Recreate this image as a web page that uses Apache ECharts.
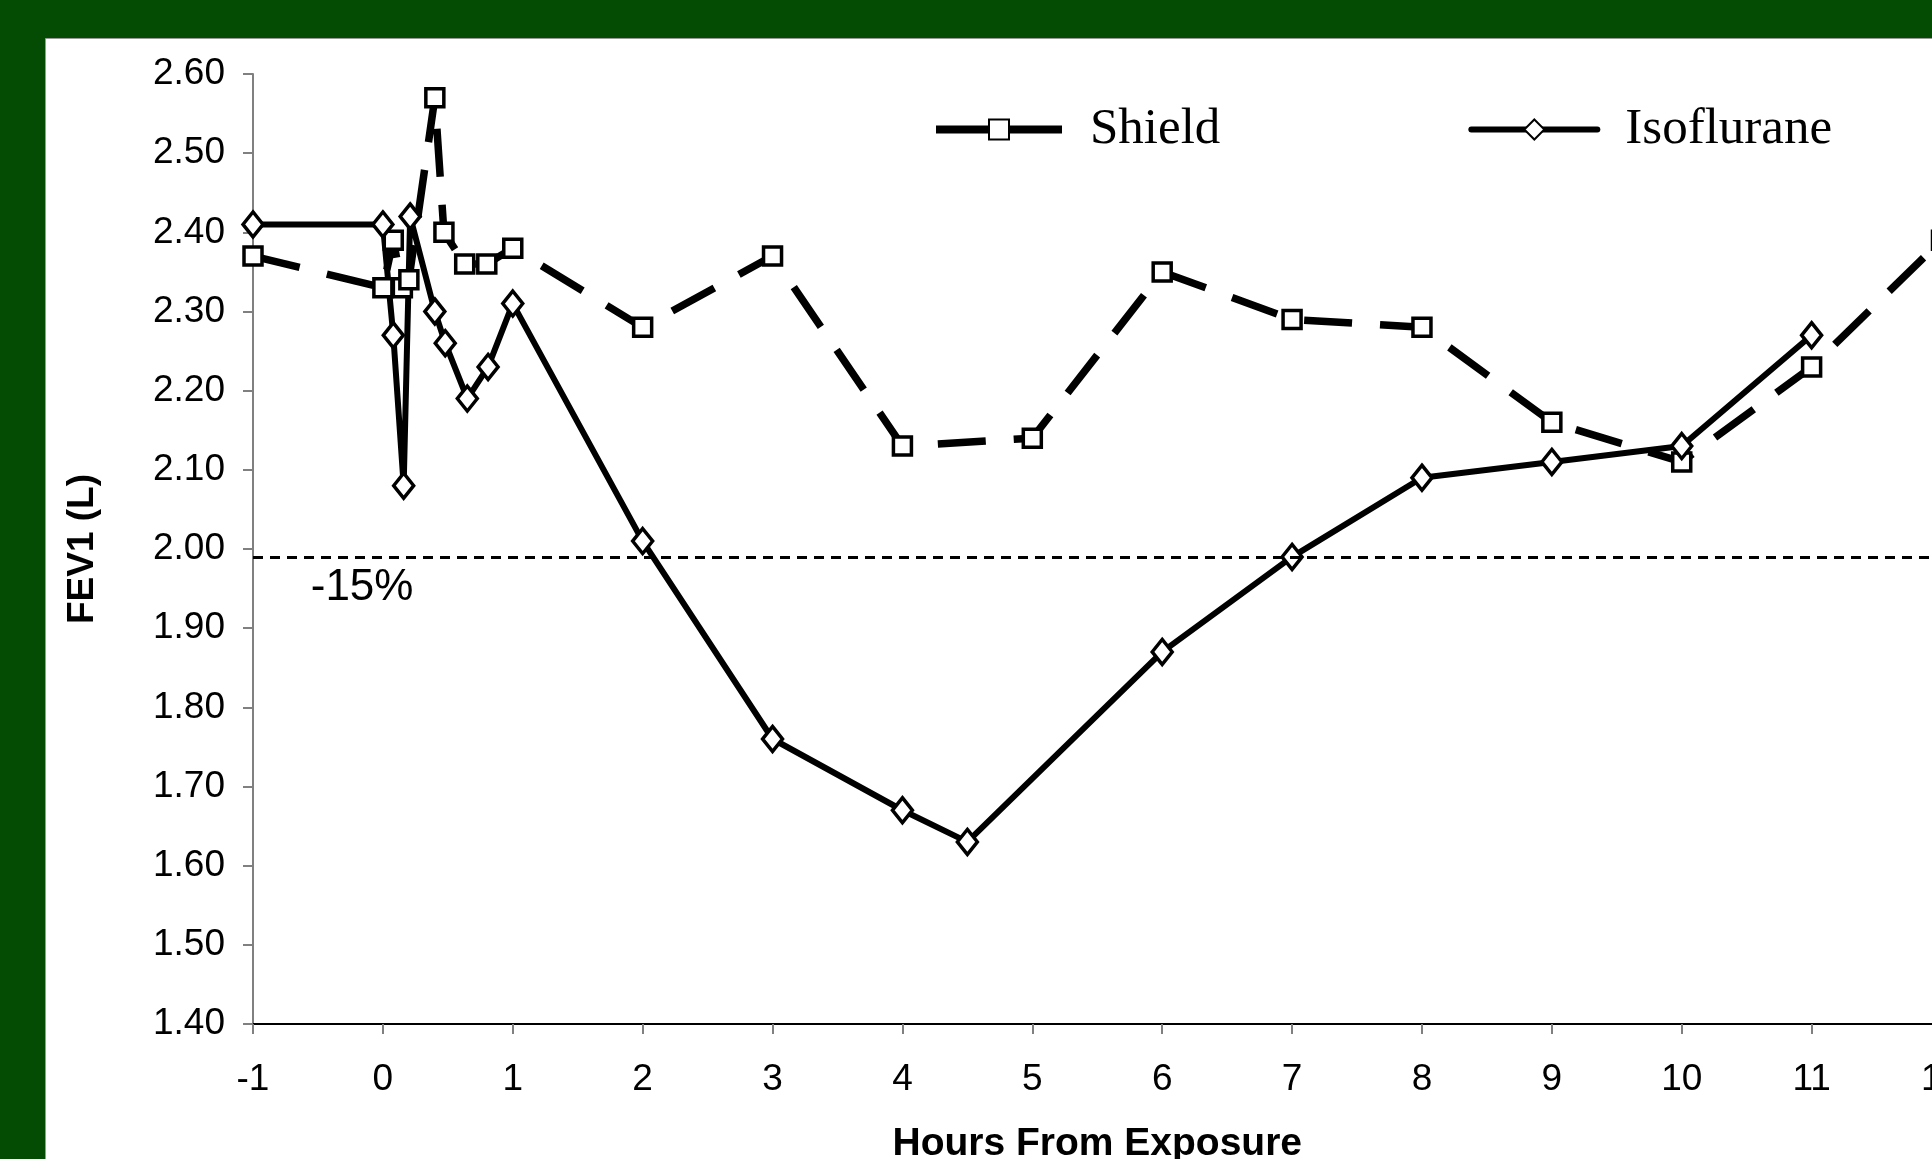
<!DOCTYPE html>
<html>
<head>
<meta charset="utf-8">
<script src="https://cdn.jsdelivr.net/npm/echarts@6/dist/echarts.min.js"></script>
<style>
  html, body { margin: 0; padding: 0; background: #044c04; }
  #chart { width: 1932px; height: 1159px; }
</style>
</head>
<body>
<div id="chart"></div>
<script>
// ---- data ----
const shieldHours = [-1, 0, 0.08, 0.15, 0.2, 0.4, 0.47, 0.63, 0.8, 1, 2, 3, 4, 5, 6, 7, 8, 9, 10, 11, 12];
const shieldFEV1  = [2.37, 2.33, 2.39, 2.33, 2.34, 2.57, 2.40, 2.36, 2.36, 2.38, 2.28, 2.37, 2.13, 2.14, 2.35, 2.29, 2.28, 2.16, 2.11, 2.23, 2.39];
const isoHours = [-1, 0, 0.08, 0.16, 0.21, 0.4, 0.48, 0.65, 0.81, 1, 2, 3, 4, 4.5, 6, 7, 8, 9, 10, 11];
const isoFEV1  = [2.41, 2.41, 2.27, 2.08, 2.42, 2.30, 2.26, 2.19, 2.23, 2.31, 2.01, 1.76, 1.67, 1.63, 1.87, 1.99, 2.09, 2.11, 2.13, 2.27];
const seriesNames = ['Shield', 'Isoflurane'];
const threshold = 1.993;          // -15% line
const thresholdLabel = '-15%';
const xTitle = 'Hours From Exposure';
const yTitle = 'FEV1 (L)';

// ---- chart ----
const labelAnchor = [-0.16, 1.951];
const chart = echarts.init(document.getElementById('chart'), null, { renderer: 'canvas' });
const pair = (xs, ys) => xs.map((x, i) => [x, ys[i]]);
const sans = "'Liberation Sans', Arial, sans-serif";
const serif = "'Liberation Serif', 'Times New Roman', serif";

chart.setOption({
  backgroundColor: '#044c04',
  animation: false,
  graphic: [{
    type: 'rect', left: 45, top: 38, z: -10,
    shape: { width: 1900, height: 1130 },
    style: { fill: '#ffffff', stroke: '#9a9a9a', lineWidth: 1 }
  }],
  grid: { left: 253, right: -9.5, top: 74, bottom: 135, containLabel: false, outerBoundsMode: 'none' },
  legend: {
    data: [
      { name: seriesNames[0], lineStyle: { type: 'solid', width: 8, cap: 'butt' } },
      { name: seriesNames[1], lineStyle: { type: 'solid', width: 6, cap: 'round' } }
    ],
    left: 932, top: 104, padding: 0,
    itemWidth: 126, itemHeight: 25, itemGap: 248,
    textStyle: { fontFamily: serif, fontSize: 51, color: '#000', padding: [0, 0, 0, 23] }
  },
  xAxis: {
    type: 'value', min: -1, max: 12, interval: 1,
    name: xTitle, nameLocation: 'middle', nameGap: 101,
    nameTextStyle: { fontFamily: sans, fontWeight: 'bold', fontSize: 39, color: '#000' },
    axisLine: { onZero: false, lineStyle: { color: '#000', width: 2 } },
    axisTick: { length: 10, lineStyle: { color: '#808080', width: 2 } },
    axisLabel: { margin: 37, fontFamily: sans, fontSize: 37, color: '#000' },
    splitLine: { show: false }
  },
  yAxis: {
    type: 'value', min: 1.4, max: 2.6, interval: 0.1,
    name: yTitle, nameLocation: 'middle', nameGap: 152, nameRotate: 90,
    nameTextStyle: { fontFamily: sans, fontWeight: 'bold', fontSize: 37, color: '#000' },
    axisLine: { show: true, onZero: false, lineStyle: { color: '#808080', width: 2 } },
    axisTick: { show: true, length: 10, lineStyle: { color: '#808080', width: 2 } },
    axisLabel: { margin: 28, fontFamily: sans, fontSize: 37, color: '#000', formatter: v => v.toFixed(2) },
    splitLine: { show: false }
  },
  series: [
    {
      name: seriesNames[0], type: 'line', data: pair(shieldHours, shieldFEV1),
      symbol: 'rect', symbolSize: 18, clip: false,
      lineStyle: { color: '#000', width: 7.5, type: [48, 28], cap: 'butt' },
      itemStyle: { color: '#fff', borderColor: '#000', borderWidth: 3.5 },
      emphasis: { disabled: true }
    },
    {
      name: seriesNames[1], type: 'line', data: pair(isoHours, isoFEV1),
      symbol: 'diamond', symbolSize: [20, 25], clip: false,
      lineStyle: { color: '#000', width: 6, cap: 'round', join: 'round' },
      itemStyle: { color: '#fff', borderColor: '#000', borderWidth: 3.5 },
      emphasis: { disabled: true },
      markLine: {
        silent: true, symbol: 'none', animation: false,
        label: { show: false },
        lineStyle: { color: '#000', width: 3, type: [10, 7] },
        data: [{ yAxis: threshold }]
      },
      markPoint: {
        silent: true, symbol: 'rect', symbolSize: 1,
        itemStyle: { color: 'rgba(0,0,0,0)' },
        label: { show: true, position: 'inside', formatter: thresholdLabel,
                 fontFamily: sans, fontSize: 44, color: '#000' },
        data: [{ coord: labelAnchor }]
      }
    }
  ]
});
</script>
</body>
</html>
